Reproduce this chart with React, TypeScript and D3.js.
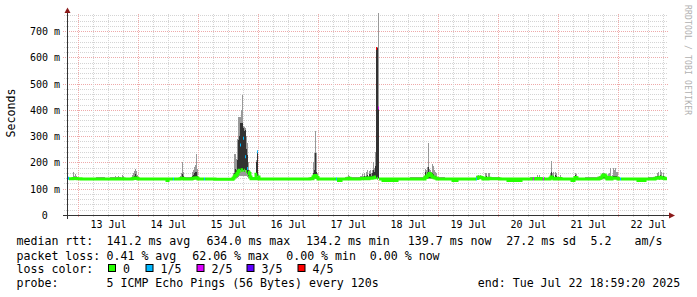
import React from "react";
import * as d3 from "d3";

// ---------- data ----------
const START = new Date(2025, 6, 12, 19, 24, 0);
const STEP_MINUTES = 24;
const SAMPLES = 600;
const END = new Date(START.getTime() + SAMPLES * STEP_MINUTES * 60000);
const Y_MAX = 765;

const yTickValues = [0, 100, 200, 300, 400, 500, 600, 700];
const yTickLabels = ["0", "100 m", "200 m", "300 m", "400 m", "500 m", "600 m", "700 m"];
const dayLabels = ["13 Jul", "14 Jul", "15 Jul", "16 Jul", "17 Jul", "18 Jul", "19 Jul", "20 Jul", "21 Jul", "22 Jul"];
const lossLabels = ["0", "1/5", "2/5", "3/5", "4/5"];
const lossColors = ["#26ff00", "#00b8ff", "#dd00ff", "#5e00ff", "#ff0000"];

// baseline runs: [first sample, lowest ping, median, highest ping]
const baseRuns: number[][] = [
  [0, 135, 138, 141], [14, 135, 137, 139], [29, 135, 137, 143], [38, 135, 137, 140],
  [43, 135, 137, 146], [54, 135, 137, 141], [59, 135, 137, 140], [73, 135, 137, 139],
  [83, 135, 137, 140], [93, 135, 137, 139], [118, 135, 137, 144], [131, 135, 137, 139],
  [148, 135, 136, 139], [184, 135, 138, 144], [192, 135, 137, 139], [218, 135, 137, 141],
  [233, 135, 137, 140], [243, 135, 138, 144], [251, 135, 137, 139], [263, 135, 137, 141],
  [278, 135, 137, 143], [293, 135, 138, 150], [312, 135, 137, 140], [328, 135, 137, 139],
  [343, 135, 137, 146], [371, 135, 137, 143], [378, 135, 137, 139], [403, 135, 137, 141],
  [423, 135, 138, 143], [433, 135, 137, 139], [458, 135, 137, 141], [463, 135, 137, 146],
  [478, 135, 137, 141], [495, 135, 137, 139], [518, 135, 137, 146], [532, 135, 141, 150],
  [540, 135, 137, 146], [553, 135, 137, 139], [581, 135, 137, 146], [588, 135, 140, 150],
  [598, 135, 138, 142],
];

// columns with visible smoke or loss: [sample, p1, p2, median, p4, p5, loss index]
const pingColumns: number[][] = [
  [1, 136, 137, 140, 141, 142, 1],
  [6, 136, 137, 139, 145, 164, 0], [7, 136, 137, 139, 142, 150, 0],
  [8, 136, 137, 139, 145, 155, 0], [9, 136, 137, 139, 141, 150, 0],
  [48, 136, 137, 137, 140, 148, 0], [51, 136, 137, 138, 141, 149, 0],
  [55, 136, 137, 138, 142, 152, 0], [56, 136, 137, 138, 141, 148, 0],
  [65, 136, 137, 138, 142, 152, 0], [66, 136, 137, 139, 145, 160, 0],
  [67, 136, 138, 140, 150, 168, 0], [68, 137, 138, 141, 155, 175, 0],
  [69, 136, 138, 140, 150, 166, 0], [70, 136, 137, 139, 143, 152, 0],
  [106, 135, 136, 137, 139, 141, 1],
  [113, 136, 137, 138, 140, 150, 0], [114, 136, 137, 139, 145, 160, 0],
  [115, 136, 137, 140, 155, 203, 0], [116, 136, 137, 139, 148, 165, 0],
  [125, 136, 137, 139, 148, 165, 0], [126, 136, 137, 140, 152, 171, 0],
  [127, 136, 138, 141, 158, 183, 0], [128, 136, 138, 141, 162, 190, 0],
  [129, 136, 138, 142, 162, 232, 0], [130, 136, 137, 140, 150, 175, 0],
  [137, 135, 136, 137, 139, 141, 1],
  [166, 137, 138, 140, 145, 160, 0], [167, 138, 140, 145, 160, 234, 0],
  [168, 140, 145, 150, 175, 234, 0], [169, 140, 148, 152, 172, 215, 0],
  [170, 142, 150, 158, 210, 290, 0], [171, 145, 160, 166, 285, 374, 0],
  [172, 148, 165, 170, 300, 374, 0], [173, 150, 170, 266, 349, 374, 1],
  [174, 150, 175, 170, 349, 400, 0], [175, 150, 175, 172, 349, 456, 0],
  [176, 150, 170, 292, 330, 340, 1], [177, 150, 165, 170, 320, 335, 0],
  [178, 150, 170, 222, 325, 330, 1], [179, 148, 160, 166, 250, 300, 0],
  [180, 145, 155, 177, 230, 273, 1], [181, 142, 148, 163, 170, 200, 0],
  [182, 140, 145, 158, 162, 171, 0], [183, 138, 140, 145, 150, 160, 0],
  [189, 140, 150, 155, 200, 210, 0], [190, 140, 150, 241, 241, 241, 1],
  [191, 138, 140, 145, 150, 155, 0],
  [246, 137, 140, 145, 160, 200, 0], [247, 137, 140, 148, 170, 236, 0],
  [248, 138, 142, 150, 236, 320, 0], [249, 137, 140, 146, 165, 236, 0],
  [250, 137, 139, 143, 150, 160, 0],
  [269, 135, 136, 137, 139, 140, 1],
  [281, 137, 138, 140, 145, 152, 0], [282, 137, 138, 140, 143, 150, 0],
  [295, 137, 138, 139, 145, 155, 0], [297, 137, 138, 140, 148, 158, 0],
  [299, 137, 138, 140, 150, 163, 0], [300, 137, 138, 141, 152, 171, 0],
  [302, 137, 138, 141, 155, 168, 0], [303, 137, 138, 141, 155, 171, 0],
  [304, 137, 138, 140, 150, 160, 0], [305, 137, 138, 141, 160, 170, 0],
  [306, 137, 139, 142, 170, 203, 0], [307, 137, 139, 142, 165, 180, 0],
  [308, 138, 140, 145, 185, 241, 0], [309, 138, 140, 634, 634, 634, 4],
  [310, 138, 140, 140, 634, 640, 0], [311, 138, 140, 407, 407, 800, 2],
  [358, 137, 140, 145, 163, 175, 0], [359, 137, 140, 143, 150, 170, 0],
  [360, 137, 140, 148, 163, 183, 0], [361, 137, 142, 152, 183, 274, 0],
  [362, 137, 142, 158, 165, 175, 0], [363, 137, 140, 155, 163, 171, 0],
  [364, 137, 139, 150, 155, 165, 0], [365, 137, 139, 145, 160, 194, 0],
  [366, 137, 139, 145, 155, 185, 0], [367, 137, 138, 142, 150, 171, 0],
  [368, 137, 138, 141, 150, 165, 0], [369, 137, 138, 140, 145, 160, 0],
  [409, 135, 136, 137, 140, 147, 1], [410, 136, 137, 139, 142, 147, 0],
  [411, 137, 140, 145, 148, 152, 0], [412, 137, 140, 145, 148, 150, 0],
  [413, 137, 140, 144, 147, 152, 0], [414, 137, 139, 143, 146, 150, 0],
  [415, 137, 138, 141, 144, 147, 0],
  [418, 137, 138, 140, 145, 158, 0], [419, 137, 138, 140, 147, 160, 0],
  [421, 137, 138, 140, 145, 158, 0], [422, 137, 138, 140, 146, 160, 0],
  [466, 135, 136, 137, 139, 146, 2],
  [470, 137, 138, 139, 145, 152, 0], [472, 137, 138, 139, 145, 152, 0],
  [476, 135, 136, 137, 139, 142, 2],
  [483, 137, 138, 140, 150, 160, 0], [484, 137, 140, 145, 165, 205, 0],
  [485, 137, 138, 140, 150, 158, 0], [486, 137, 138, 140, 150, 165, 0],
  [488, 137, 138, 140, 152, 165, 0], [489, 137, 138, 140, 148, 160, 0],
  [493, 137, 138, 139, 145, 152, 0],
  [508, 137, 140, 143, 152, 158, 0], [509, 137, 140, 142, 150, 155, 0],
  [535, 137, 140, 148, 152, 158, 0], [536, 137, 142, 152, 155, 160, 0],
  [537, 137, 142, 152, 155, 158, 0], [538, 137, 140, 148, 152, 156, 0],
  [541, 137, 140, 142, 150, 155, 0], [542, 137, 140, 143, 150, 160, 0],
  [543, 137, 139, 142, 150, 177, 0], [545, 137, 138, 140, 146, 152, 0],
  [546, 137, 139, 141, 150, 177, 0], [547, 137, 139, 141, 148, 170, 0],
  [548, 137, 139, 141, 150, 177, 0], [549, 137, 138, 140, 148, 165, 0],
  [550, 137, 138, 140, 146, 165, 0],
  [553, 135, 136, 137, 139, 141, 1],
  [590, 137, 139, 141, 148, 158, 0], [591, 137, 139, 142, 150, 163, 0],
  [593, 137, 140, 144, 152, 171, 0], [594, 137, 139, 141, 148, 163, 0],
  [596, 137, 139, 141, 147, 160, 0],
];

// samples where the median drops slightly below the baseline
const dipSamples = [100, 270, 273, 316, 319, 322, 325, 329, 386, 387, 389, 441, 443, 445, 448, 450, 453, 505, 506, 571, 573, 575, 577];
const dipPings = [129, 130, 131, 134, 137];

const statRows: [string, number][][] = [
  [["median rtt:", 16.5], ["141.2 ms avg", 106.5], ["634.0 ms max", 206.5], ["134.2 ms min", 306], ["139.7 ms now", 407.8], ["27.2 ms sd", 506.3], ["5.2", 590.5], ["am/s", 634.5]],
  [["packet loss:", 16.5], ["0.41 % avg", 106.5], ["62.06 % max", 192.2], ["0.00 % min", 286.2], ["0.00 % now", 369.8]],
  [["loss color:", 16.5]],
  [["probe:", 16.5], ["5 ICMP Echo Pings (56 Bytes) every 120s", 106.5], ["end: Tue Jul 22 18:59:20 2025", 477.8]],
];
const swatchX = [108.5, 146, 197, 247, 298];
const rowBaselines = [245, 259.5, 272.5, 287];

const MONO = "'DejaVu Sans Mono', monospace";

export default function App() {
  const W = 697, H = 297;
  const left = 67, right = 667, top = 14, bottom = 215;
  const x = d3.scaleTime().domain([START, END]).range([left, right]);
  const y = d3.scaleLinear().domain([0, Y_MAX]).range([bottom, top]);
  const sampleTime = (i: number) => d3.timeMinute.offset(START, i * STEP_MINUTES);

  const runStarts = baseRuns.map((r) => r[0]);
  const colMap = new Map(pingColumns.map((c) => [c[0], c]));
  const dipSet = new Set(dipSamples);
  const cols = d3.range(SAMPLES).map((i) => {
    const c = colMap.get(i);
    let p: number[];
    let loss = 0;
    if (c) {
      p = c.slice(1, 6);
      loss = c[6];
    } else if (dipSet.has(i)) {
      p = dipPings;
    } else {
      const r = baseRuns[d3.bisectRight(runStarts, i) - 1];
      p = [r[1], r[2], r[2], r[2], r[3]];
    }
    return { i, x0: x(sampleTime(i)), x1: x(sampleTime(i + 1)), p, loss };
  });

  const pts = cols.flatMap((c) => [
    { x: c.x0, y: y(c.p[2]), loss: c.loss },
    { x: c.x1, y: y(c.p[2]), loss: c.loss },
  ]);

  const gridTimes = d3.timeHour.every(6)!.range(START, END).filter((t) => x(t) > left + 1);
  const gridVals = d3.range(20, Y_MAX, 20);
  const noon = dayLabels.map((_, k) => new Date(2025, 6, 13 + k, 12, 0, 0));

  const snap = (v: number) => Math.round(v) + 0.5;

  return (
    <svg width={W} height={H} style={{ position: "absolute", left: 0, top: 0, background: "#fff" }}>
      <rect x={0} y={0} width={W} height={H} fill="#fff" />
      <defs>
        <clipPath id="plot">
          <rect x={left} y={top - 1} width={right - left} height={bottom - top + 1} />
        </clipPath>
      </defs>

      {/* grid */}
      {gridVals.map((v) => {
        const major = v % 100 === 0;
        return (
          <line key={"h" + v} x1={major ? 63 : 64} x2={right + 1} y1={snap(y(v))} y2={snap(y(v))}
            stroke={major ? "#eeaaaa" : "#d4d4d4"} strokeWidth={1} strokeDasharray="1,1" />
        );
      })}
      {gridTimes.map((t) => {
        const major = t.getHours() === 0;
        const xx = Math.floor(x(t)) + 0.5;
        return (
          <line key={"v" + t.getTime()} x1={xx} x2={xx} y1={top} y2={major ? bottom + 3 : bottom + 2}
            stroke={major ? "#eeaaaa" : "#d4d4d4"} strokeWidth={1} strokeDasharray="1,1" />
        );
      })}

      {/* smoke */}
      <g clipPath="url(#plot)" shapeRendering="crispEdges">
        {cols.map((c) =>
          c.p[4] > c.p[0] ? (
            <rect key={"o" + c.i} x={c.x0} width={c.x1 - c.x0} y={y(c.p[4])} height={y(c.p[0]) - y(c.p[4])} fill="#999999" />
          ) : null
        )}
        {cols.map((c) =>
          c.p[3] > c.p[1] ? (
            <rect key={"n" + c.i} x={c.x0} width={c.x1 - c.x0} y={y(c.p[3])} height={y(c.p[1]) - y(c.p[3])} fill="#323232" />
          ) : null
        )}
      </g>

      {/* median line by loss */}
      <g clipPath="url(#plot)">
        {lossColors.map((col, k) => {
          const path = d3
            .line<{ x: number; y: number; loss: number }>()
            .defined((d) => d.loss === k)
            .x((d) => d.x)
            .y((d) => d.y)(pts);
          return <path key={"m" + k} d={path || ""} fill="none" stroke={col} strokeWidth={3} />;
        })}
      </g>

      {/* axes */}
      <line x1={63} x2={669} y1={bottom + 0.5} y2={bottom + 0.5} stroke="#333" strokeWidth={1} />
      <line x1={left + 0.5} x2={left + 0.5} y1={bottom + 4} y2={11} stroke="#333" strokeWidth={1} />
      <path d={`M${left + 0.5},7.5 L${left - 2.5},13 L${left + 3.5},13 Z`} fill="#8b1a1a" />
      <path d={`M675,${bottom + 0.5} L669,${bottom - 2.5} L669,${bottom + 3.5} Z`} fill="#8b1a1a" />

      {/* y tick labels */}
      {yTickValues.map((v, k) => (
        <text key={"yl" + v} x={v === 0 ? 47.8 : 60} y={y(v) + 4} textAnchor="end" fontFamily={MONO} fontSize={10} fill="#000">
          {yTickLabels[k]}
        </text>
      ))}
      {/* x tick labels */}
      {noon.map((t, k) => (
        <text key={"xl" + k} x={x(t)} y={228} textAnchor="middle" fontFamily={MONO} fontSize={10} fill="#000">
          {dayLabels[k]}
        </text>
      ))}

      {/* axis title */}
      <text transform="translate(15,113) rotate(-90)" textAnchor="middle" fontFamily={MONO} fontSize={11.6} fill="#000">
        Seconds
      </text>

      {/* watermark */}
      <text transform="translate(685,5) rotate(90)" fontFamily={MONO} fontSize={8} fill="#b0b0b0" textLength={110} lengthAdjust="spacing">
        RRDTOOL / TOBI OETIKER
      </text>

      {/* legend */}
      {statRows.map((row, r) =>
        row.map(([s, xx], k) => (
          <text key={"s" + r + "_" + k} x={xx} y={rowBaselines[r]} fontFamily={MONO} fontSize={11.6} fill="#000" style={{ whiteSpace: "pre" }}>
            {s}
          </text>
        ))
      )}
      {lossColors.map((col, k) => (
        <g key={"sw" + k}>
          <rect x={swatchX[k]} y={264.5} width={7} height={7} fill={col} stroke="#000" strokeWidth={1} />
          <text x={swatchX[k] + 14.5} y={rowBaselines[2]} fontFamily={MONO} fontSize={11.6} fill="#000">
            {lossLabels[k]}
          </text>
        </g>
      ))}
    </svg>
  );
}
